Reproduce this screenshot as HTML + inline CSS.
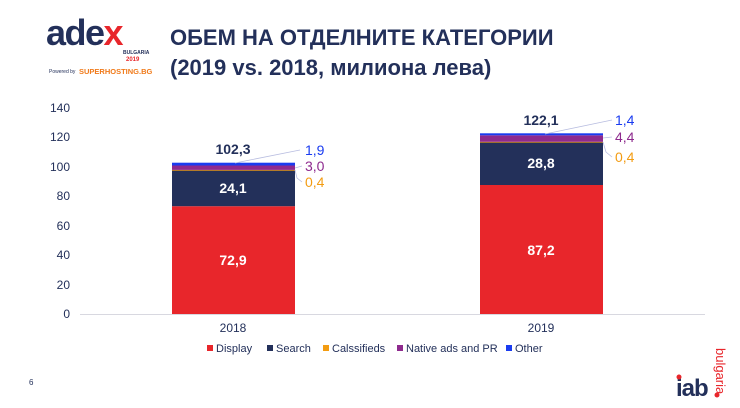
<!DOCTYPE html>
<html><head><meta charset="utf-8"><style>
html,body{margin:0;padding:0;background:#fff;width:740px;height:408px;overflow:hidden}
svg{display:block;font-family:"Liberation Sans",Arial,sans-serif}
</style></head><body>
<svg width="740" height="408" viewBox="0 0 740 408">
<!-- logo -->
<text x="46" y="45" font-size="36" font-weight="bold" fill="#23305a" letter-spacing="-1.5">ade<tspan fill="#e8262b">x</tspan></text>
<text x="123" y="54" font-size="5" font-weight="bold" fill="#23305a">BULGARIA</text>
<text x="126" y="61" font-size="6" font-weight="bold" fill="#e8262b">2019</text>
<text x="49" y="73" font-size="5" fill="#23305a">Powered by</text>
<text x="79" y="74" font-size="7.5" font-weight="bold" fill="#f07a1a">SUPERHOSTING.BG</text>
<!-- title -->
<text x="170" y="45" font-size="22" font-weight="bold" fill="#23305a">ОБЕМ НА ОТДЕЛНИТЕ КАТЕГОРИИ</text>
<text x="170" y="75" font-size="22" font-weight="bold" fill="#23305a">(2019 vs. 2018, милиона лева)</text>
<!-- y axis labels -->
<g font-size="12" fill="#23305a" text-anchor="end">
<text x="70" y="112">140</text><text x="70" y="141">120</text><text x="70" y="171">100</text>
<text x="70" y="200">80</text><text x="70" y="230">60</text><text x="70" y="259">40</text>
<text x="70" y="289">20</text><text x="70" y="318">0</text>
</g>
<line x1="80" y1="314.5" x2="705" y2="314.5" stroke="#d8d8e0" stroke-width="1"/>
<!-- 2018 -->
<rect x="172" y="206.2" width="123" height="107.8" fill="#e8262b"/>
<rect x="172" y="170.5" width="123" height="35.7" fill="#23305a"/>
<rect x="172" y="169.9" width="123" height="0.8" fill="#f39c12"/>
<rect x="172" y="165.5" width="123" height="4.4" fill="#8e2a8e"/>
<rect x="172" y="162.7" width="123" height="2.8" fill="#1a3cf0"/>
<!-- 2019 -->
<rect x="480" y="185" width="123" height="129" fill="#e8262b"/>
<rect x="480" y="142.4" width="123" height="42.6" fill="#23305a"/>
<rect x="480" y="141.8" width="123" height="0.8" fill="#f39c12"/>
<rect x="480" y="135.3" width="123" height="6.5" fill="#8e2a8e"/>
<rect x="480" y="133.3" width="123" height="2" fill="#1a3cf0"/>
<!-- leader lines -->
<g stroke="#b8bde0" stroke-width="0.8" fill="none">
<line x1="235" y1="163" x2="300" y2="150"/>
<line x1="295" y1="168" x2="302" y2="166"/>
<polyline points="295,170 297,178 302,182"/>
<line x1="545" y1="134" x2="612" y2="120"/>
<line x1="603" y1="138" x2="612" y2="137"/>
<polyline points="603,142 606,152 612,157"/>
</g>
<!-- value labels -->
<g font-size="14" font-weight="bold" text-anchor="middle">
<text x="233" y="154" fill="#23305a">102,3</text>
<text x="233" y="193" fill="#fff">24,1</text>
<text x="233" y="265" fill="#fff">72,9</text>
<text x="541" y="125" fill="#23305a">122,1</text>
<text x="541" y="168" fill="#fff">28,8</text>
<text x="541" y="255" fill="#fff">87,2</text>
</g>
<g font-size="14">
<text x="305" y="155" fill="#1a3cf0">1,9</text>
<text x="305" y="171" fill="#8e2a8e">3,0</text>
<text x="305" y="187" fill="#f39c12">0,4</text>
<text x="615" y="125" fill="#1a3cf0">1,4</text>
<text x="615" y="142" fill="#8e2a8e">4,4</text>
<text x="615" y="162" fill="#f39c12">0,4</text>
</g>
<!-- x labels -->
<g font-size="12" fill="#23305a" text-anchor="middle">
<text x="233" y="332">2018</text><text x="541" y="332">2019</text>
</g>
<!-- legend -->
<g font-size="11" fill="#23305a">
<rect x="207" y="345" width="6" height="6" fill="#e8262b"/><text x="216" y="352">Display</text>
<rect x="267" y="345" width="6" height="6" fill="#23305a"/><text x="276" y="352">Search</text>
<rect x="323" y="345" width="6" height="6" fill="#f39c12"/><text x="332" y="352">Calssifieds</text>
<rect x="397" y="345" width="6" height="6" fill="#8e2a8e"/><text x="406" y="352">Native ads and PR</text>
<rect x="506" y="345" width="6" height="6" fill="#1a3cf0"/><text x="515" y="352">Other</text>
</g>
<text x="29" y="385" font-size="8" fill="#23305a">6</text>
<!-- iab logo -->
<text x="676" y="396" font-size="24" font-weight="bold" fill="#23305a" letter-spacing="-1">iab</text>
<circle cx="679" cy="377" r="2.5" fill="#e8262b"/>
<text transform="translate(716,348) rotate(90)" font-size="13" fill="#e8262b">bulgaria</text>
<circle cx="717" cy="395" r="2.5" fill="#e8262b"/>
</svg>
</body></html>
